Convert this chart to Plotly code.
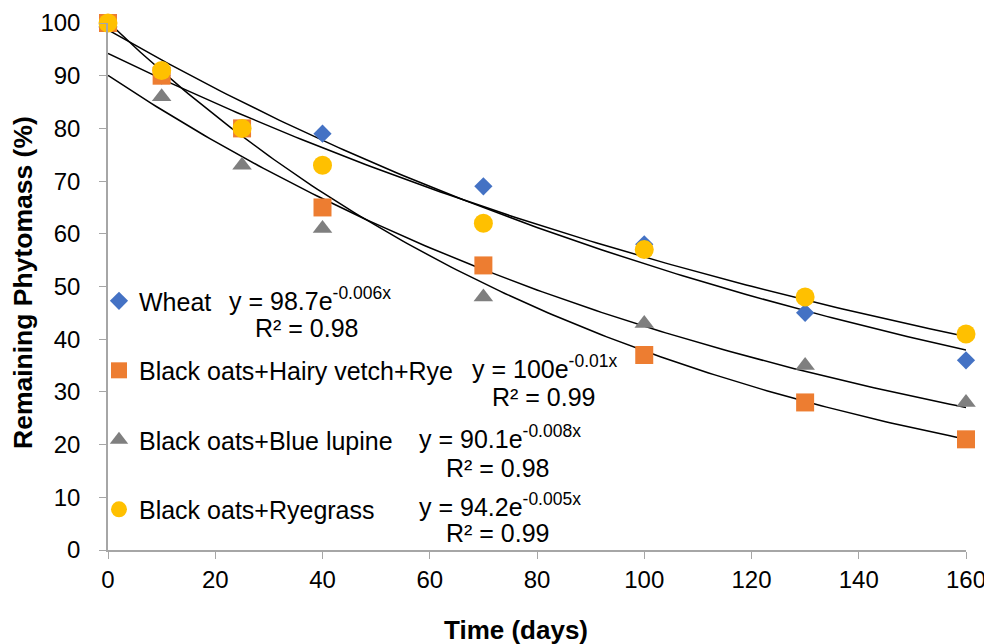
import numpy as np
import plotly.graph_objects as go

days = [0, 10, 25, 40, 70, 100, 130, 160]
wheat = [100, 90, 80, 79, 69, 58, 45, 36]
oats_vetch_rye = [100, 90, 80, 65, 54, 37, 28, 21]
oats_lupine = [100, 86, 73, 61, 48, 43, 35, 28]
oats_ryegrass = [100, 91, 80, 73, 62, 57, 48, 41]

names = ["Wheat", "Black oats+Hairy vetch+Rye", "Black oats+Blue lupine", "Black oats+Ryegrass"]
series = [wheat, oats_vetch_rye, oats_lupine, oats_ryegrass]
colors = ["#4472C4", "#ED7D31", "#7F7F7F", "#FFC000"]
symbols = ["diamond", "square", "triangle-up", "circle"]
sizes = [14, 18, 17, 19]
equations = ["y = 98.7e<sup>-0.006x</sup>", "y = 100e<sup>-0.01x</sup>",
             "y = 90.1e<sup>-0.008x</sup>", "y = 94.2e<sup>-0.005x</sup>"]
r2 = ["R² = 0.98", "R² = 0.99", "R² = 0.98", "R² = 0.99"]

FONT = "Liberation Sans, Arial, sans-serif"
fig = go.Figure()

xs = np.linspace(0, 160, 161)
for i, (nm, ys) in enumerate(zip(names, series)):
    b, a = np.polyfit(days, np.log(ys), 1)
    fig.add_trace(go.Scatter(x=xs, y=np.exp(a) * np.exp(b * xs), mode="lines",
                             line=dict(color="black", width=1.5), showlegend=False,
                             hoverinfo="skip"))

for i, (nm, ys) in enumerate(zip(names, series)):
    fig.add_trace(go.Scatter(x=days, y=ys, mode="markers", name=nm, legendgroup=nm,
                             marker=dict(color=colors[i], symbol=symbols[i], size=sizes[i],
                                         line=dict(width=0)),
                             cliponaxis=False))

def px2paper(px, py):
    return (px - 108) / 858, (550 - py) / 527

# equation labels: left edge / vertical centre in page pixels
eq_pos = [(227, 299), (470, 367), (417, 437), (417, 505)]
r2_pos = [(307, 328), (544, 397), (498, 468), (498, 533)]
for i in range(4):
    x, y = px2paper(*eq_pos[i])
    fig.add_annotation(x=x, y=y, xref="paper", yref="paper", text=equations[i],
                       showarrow=False, xanchor="left", yanchor="middle",
                       font=dict(size=25, color="black", family=FONT))
    x, y = px2paper(*r2_pos[i])
    fig.add_annotation(x=x, y=y, xref="paper", yref="paper", text=r2[i], showarrow=False,
                       xanchor="center", yanchor="middle",
                       font=dict(size=25, color="black", family=FONT))

# axis titles
tx, ty = px2paper(516, 630)
fig.add_annotation(x=tx, y=ty, xref="paper", yref="paper", text="<b>Time (days)</b>",
                   showarrow=False, xanchor="center", yanchor="middle",
                   font=dict(size=26, color="black", family=FONT))
tx, ty = px2paper(23, 283)
fig.add_annotation(x=tx, y=ty, xref="paper", yref="paper",
                   text="<b>Remaining Phytomass (%)</b>", showarrow=False,
                   xanchor="center", yanchor="middle",
                   textangle=-90, font=dict(size=26.5, color="black", family=FONT))

fig.update_layout(
    width=992, height=644,
    margin=dict(l=100, r=34, t=15, b=102, autoexpand=False),
    plot_bgcolor="white", paper_bgcolor="white",
    font=dict(family=FONT, color="black", size=24),
    showlegend=True,
    legend=dict(x=-0.0105, y=0.516, xanchor="left", yanchor="top",
                bgcolor="rgba(0,0,0,0)", font=dict(size=25, family=FONT),
                tracegroupgap=34, itemwidth=30),
    xaxis=dict(range=[0, 160], tickvals=list(range(0, 161, 20)), showgrid=False,
               zeroline=False, showline=True, linecolor="#A6A6A6", linewidth=1.5,
               ticks="outside", ticklen=7, tickcolor="#A6A6A6", automargin=False,
               tickfont=dict(size=24, family=FONT)),
    yaxis=dict(range=[0, 100], tickvals=list(range(0, 101, 10)), showgrid=False,
               zeroline=False, showline=True, linecolor="#A6A6A6", linewidth=1.5,
               ticks="outside", ticklen=7, tickcolor="#A6A6A6", automargin=False,
               ticklabelstandoff=14,
               tickfont=dict(size=24, family=FONT)),
)

fig.write_html("out.html")
